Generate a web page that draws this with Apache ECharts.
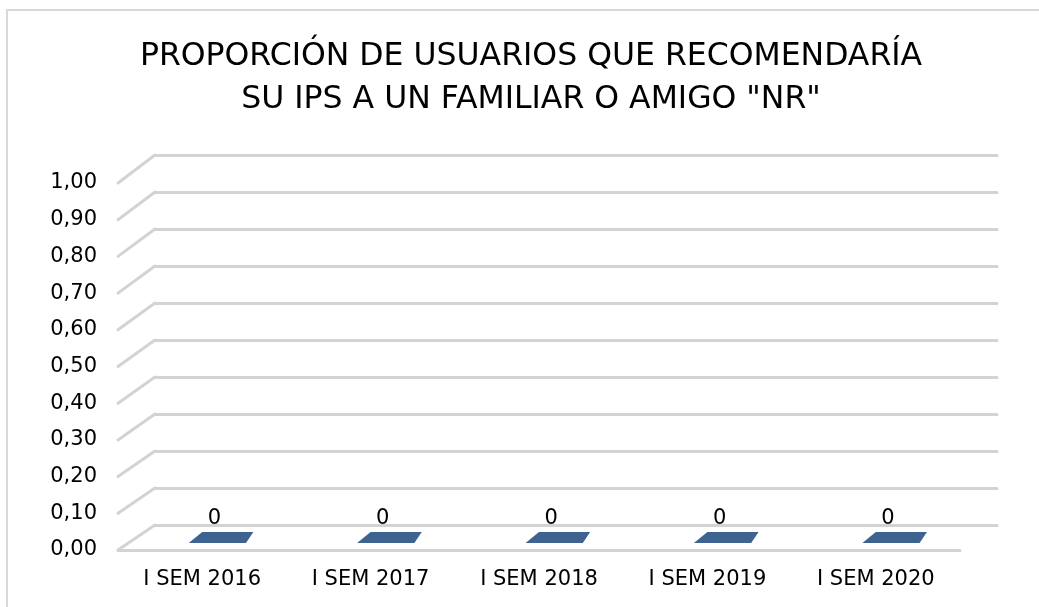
<!DOCTYPE html>
<html>
<head>
<meta charset="utf-8">
<script src="https://cdn.jsdelivr.net/npm/echarts@6/dist/echarts.min.js"></script>
<style>
  html, body { margin: 0; padding: 0; background: #fff; }
  #chart { width: 1039px; height: 607px; }
</style>
</head>
<body>
<div id="chart"></div>
<script>
var categories = ['I SEM 2016', 'I SEM 2017', 'I SEM 2018', 'I SEM 2019', 'I SEM 2020']
var values = [0, 0, 0, 0, 0]
var yTicks = [0, 0.1, 0.2, 0.3, 0.4, 0.5, 0.6, 0.7, 0.8, 0.9, 1]
var yMin = 0
var yMax = 1
var yStep = 0.1

// layout of the fake 3d box: front plane and back wall
var FRONT = { left: 118, right: 79, top: 183, bottom: 57 }
var BACK = { left: 155, right: 42, top: 155, bottom: 82 }
var H = 607
var FONT = 'DejaVu Sans'
var GRID_COLOR = '#d3d3d3'
var BAR_COLOR = '#3e6390'

// y on the back wall for a value
function backY (v) {
  var b = H - BACK.bottom
  return b - (v - yMin) / (yMax - yMin) * (b - BACK.top)
}

var myChart = echarts.init(document.getElementById('chart'))

var option = {
  animation: false,
  title: {
    text: 'PROPORCIÓN DE USUARIOS QUE RECOMENDARÍA\nSU IPS A UN FAMILIAR O AMIGO "NR"',
    left: 526,
    top: 30,
    textAlign: 'center',
    textStyle: {
      fontFamily: FONT,
      fontSize: 31.5,
      fontWeight: 'normal',
      color: '#000',
      lineHeight: 43
    }
  },
  graphic: [
    {
      type: 'rect',
      shape: { x: 7, y: 10, width: 1100, height: 700 },
      style: { fill: 'none', stroke: '#d9d9d9', lineWidth: 2 },
      z: -10
    }
  ],
  grid: [
    { left: FRONT.left, right: FRONT.right, top: FRONT.top, bottom: FRONT.bottom },
    { left: BACK.left, right: BACK.right, top: BACK.top, bottom: BACK.bottom }
  ],
  xAxis: [
    {
      gridIndex: 0,
      type: 'category',
      data: categories,
      axisTick: { show: false },
      axisLine: { lineStyle: { color: GRID_COLOR, width: 3, cap: 'round' } },
      axisLabel: { color: '#000', fontFamily: FONT, fontSize: 21, margin: 19 }
    },
    { gridIndex: 1, type: 'value', show: false }
  ],
  yAxis: [
    {
      gridIndex: 0,
      type: 'value',
      min: yMin,
      max: yMax,
      interval: yStep,
      splitLine: { show: false },
      axisLine: { show: false },
      axisTick: { show: false },
      axisLabel: {
        color: '#000',
        fontFamily: FONT,
        fontSize: 21,
        margin: 21,
        formatter: function (v) { return v.toFixed(2).replace('.', ',') }
      }
    },
    {
      gridIndex: 1,
      type: 'value',
      min: yMin,
      max: yMax,
      interval: yStep,
      axisLine: { show: false },
      axisTick: { show: false },
      axisLabel: { show: false },
      splitLine: { lineStyle: { color: GRID_COLOR, width: 3, cap: 'round' } }
    }
  ],
  series: [
    {
      // side wall diagonals joining front ticks to back wall lines
      type: 'custom',
      xAxisIndex: 0,
      yAxisIndex: 0,
      silent: true,
      z: 1,
      data: yTicks.map(function (v) { return [0, v] }),
      renderItem: function (params, api) {
        var v = api.value(1)
        var fy = api.coord([0, v])[1]
        return {
          type: 'line',
          shape: { x1: params.coordSys.x, y1: fy, x2: BACK.left, y2: backY(v) },
          style: { stroke: GRID_COLOR, lineWidth: 3, lineCap: 'round' }
        }
      }
    },
    {
      name: 'NR',
      type: 'custom',
      xAxisIndex: 0,
      yAxisIndex: 0,
      z: 3,
      data: values.map(function (v, i) { return [i, v] }),
      renderItem: function (params, api) {
        var i = api.value(0)
        var v = api.value(1)
        var c = api.coord([i, v])
        var c0 = api.coord([i, yMin])
        var band = api.size([1, 0])[0]
        var d1 = 0.28
        var d2 = 0.72
        var hwF = band * 0.17
        var hwB = band * 0.152
        var sxF = band * 0.09
        var sxB = band * 0.152
        var yTopF = c[1] * (1 - d1) + backY(v) * d1
        var yTopB = c[1] * (1 - d2) + backY(v) * d2
        var yBotF = c0[1] * (1 - d1) + backY(yMin) * d1
        var cx = c[0]
        var children = []
        if (yBotF - yTopF > 0.5) {
          children.push({
            type: 'rect',
            shape: { x: cx + sxF - hwF, y: yTopF, width: hwF * 2, height: yBotF - yTopF },
            style: { fill: BAR_COLOR }
          })
        }
        children.push({
          type: 'polygon',
          shape: {
            points: [
              [cx + sxF - hwF, yTopF],
              [cx + sxF + hwF, yTopF],
              [cx + sxB + hwB, yTopB],
              [cx + sxB - hwB, yTopB]
            ]
          },
          style: { fill: BAR_COLOR }
        })
        children.push({
          type: 'text',
          x: cx + sxF - 3,
          y: yTopB - 13,
          style: {
            text: String(v),
            fontFamily: FONT,
            fontSize: 21,
            fill: '#000',
            align: 'center',
            verticalAlign: 'middle'
          }
        })
        return { type: 'group', children: children }
      }
    }
  ]
}
myChart.setOption(option)
</script>
</body>
</html>
